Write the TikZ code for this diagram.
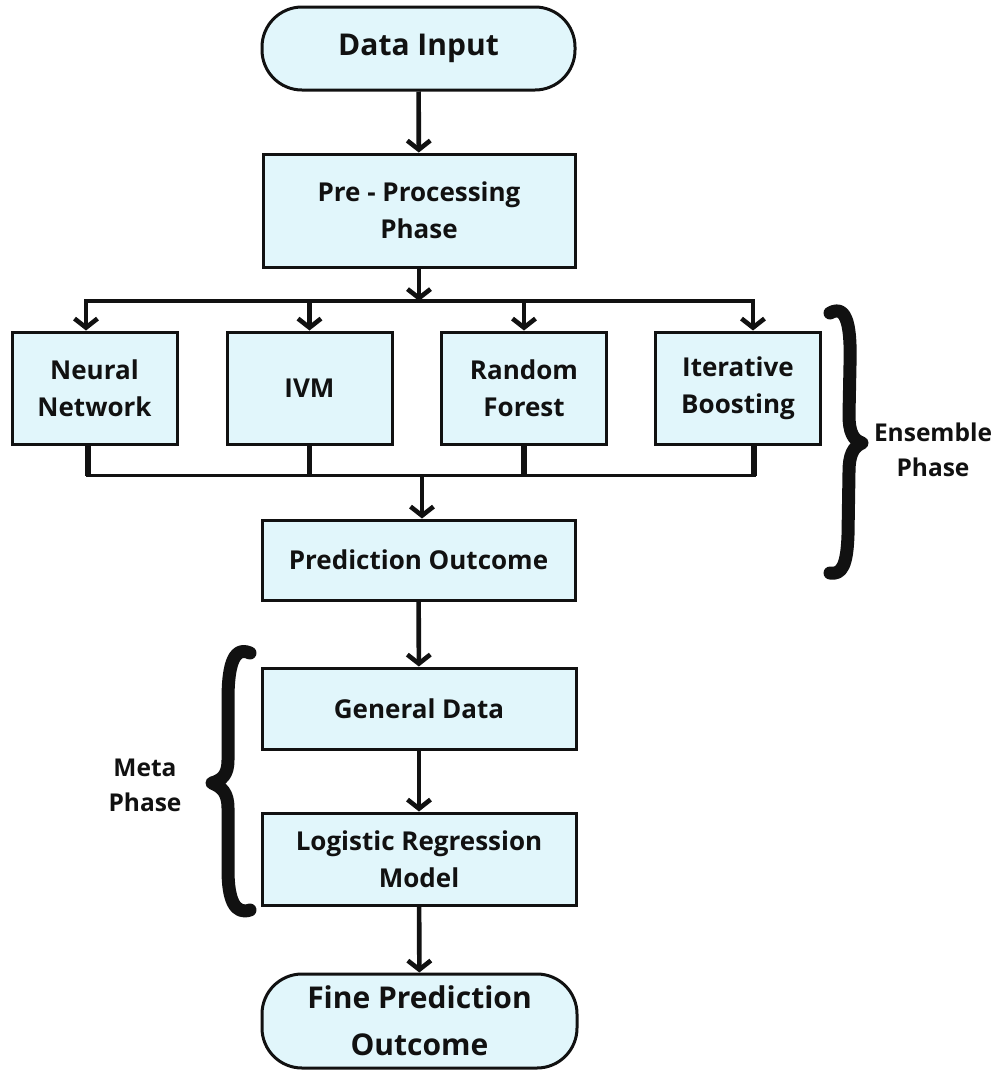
\documentclass[tikz,border=0pt]{standalone}
\usepackage{fontspec}
\setmainfont{Open Sans}
\usetikzlibrary{arrows.meta,calc}
\definecolor{boxfill}{RGB}{225,246,251}
\definecolor{ink}{RGB}{17,17,17}
\begin{document}
\begin{tikzpicture}[x=1pt,y=-1pt,
  box/.style={draw=ink, line width=3pt, fill=boxfill, align=center, inner sep=0pt, text=ink,
    font=\bfseries\fontsize{26}{37}\selectfont},
  pill/.style={box, rounded corners=40pt, font=\bfseries\fontsize{30}{47}\selectfont},
  arr/.style={draw=ink, line width=4.6pt, -{Straight Barb[length=9pt,width=23pt,line width=4.6pt]}},
  wire/.style={draw=ink, line width=3.8pt, line cap=rect},
  stem/.style={draw=ink, line width=5.4pt},
  brace/.style={draw=ink, line width=13pt, line cap=round, line join=round},
  lbl/.style={font=\bfseries\fontsize{24.5}{35}\selectfont, align=center, text=ink}
]
\fill[white] (0,0) rectangle (995,1074);
\useasboundingbox (0,0) rectangle (995,1074);

% nodes
\node[pill, minimum width=313pt, minimum height=83pt] (din) at (418.5,48.5) {Data Input};
\node[box, minimum width=312pt, minimum height=113pt] (pre) at (419,210.5) {Pre - Processing\\Phase};
\node[box, minimum width=165pt, minimum height=112pt] (nn) at (94.5,388) {Neural\\Network};
\node[box, minimum width=165pt, minimum height=112pt] (ivm) at (309.5,388) {IVM};
\node[box, minimum width=165pt, minimum height=112pt] (rf) at (524,388) {Random\\Forest};
\node[box, minimum width=165pt, minimum height=112pt] (ib) at (738,388) {Iterative\\Boosting};
\node[box, minimum width=313pt, minimum height=80pt] (pred) at (418.5,560) {Prediction Outcome};
\node[box, minimum width=314pt, minimum height=81pt] (gen) at (419,708.5) {General Data};
\node[box, minimum width=314pt, minimum height=92pt] (lr) at (419,859) {Logistic Regression\\Model};
\node[pill, minimum width=315pt, minimum height=94pt] (fine) at (419.5,1021) {Fine Prediction\\Outcome};

\node[lbl] (ens) at (933,450) {Ensemble\\Phase};
\node[lbl] (meta) at (145,785) {Meta\\Phase};

% bus coordinates
\coordinate (busL) at (86,301);
\coordinate (busR) at (753,301);
\coordinate (botL) at (88,475.5);
\coordinate (botR) at (754,475.5);
\coordinate (join) at (422,475.5);

% connectors
\draw[arr] (din) -- (pre);
\draw[arr] (pre) -- (pre.south |- busL);
\draw[wire] (busL) -- (busR);
\draw[arr] (busL) -- (nn.north -| busL);
\draw[arr] (ivm.north |- busL) -- (ivm.north);
\draw[arr] (rf.north |- busL) -- (rf.north);
\draw[arr] (busR) -- (ib.north -| busR);

\draw[stem] (nn.south -| botL) -- (botL);
\draw[stem] (ivm.south) -- (ivm.south |- botL);
\draw[stem] (rf.south) -- (rf.south |- botL);
\draw[stem] (ib.south -| botR) -- (botR);
\draw[wire] (botL) -- (botR);
\draw[arr] (join) -- (pred.north -| join);

\draw[arr] (pred) -- (gen);
\draw[arr] (gen) -- (lr);
\draw[arr] (lr) -- (fine);

% braces
\draw[brace] (830,313) .. controls (848,303) and (851,330) .. (850,365)
  -- (849,415) .. controls (849,432) and (853,440) .. (862,443)
  .. controls (853,447) and (849,455) .. (849,472)
  -- (848,535) .. controls (847,565) and (842,575) .. (830,573);
\draw[brace] (250,653) .. controls (232,645) and (228,670) .. (228,700)
  -- (228,760) .. controls (228,775) and (222,780) .. (212,783)
  .. controls (222,787) and (228,793) .. (228,808)
  -- (228,870) .. controls (228,900) and (235,915) .. (250,910);
\end{tikzpicture}
\end{document}
